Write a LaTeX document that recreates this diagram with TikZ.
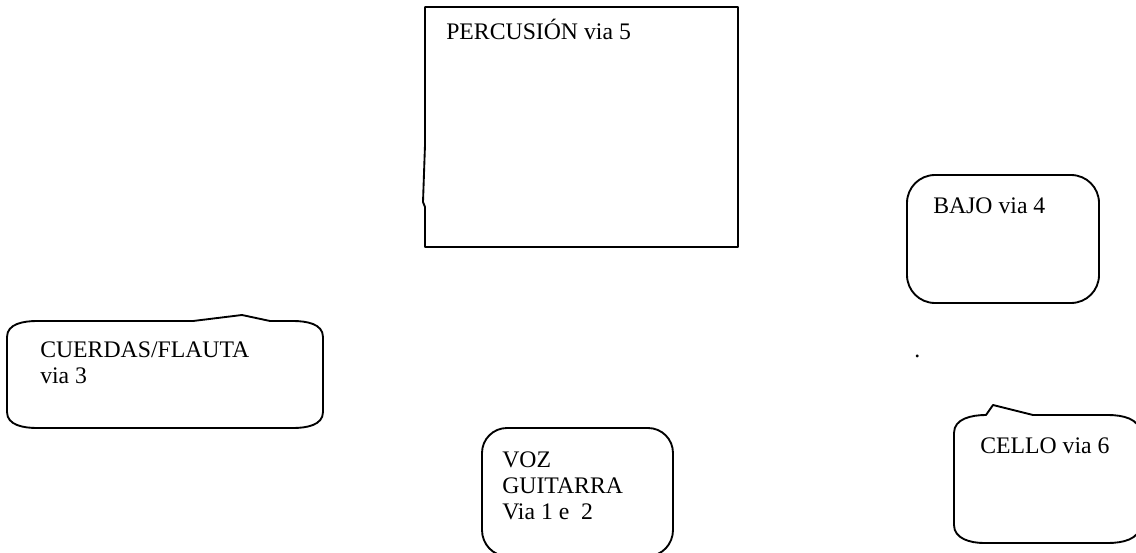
\documentclass[tikz,border=0pt]{standalone}
\usepackage{fontspec}
\setmainfont{Liberation Serif}
\begin{document}
\begin{tikzpicture}[x=0.75pt,y=-0.75pt,
  shapeline/.style={draw=black,line width=1.4pt,line join=round},
  lbl/.style={inner sep=0pt,anchor=base west,align=left,font=\fontsize{17.8pt}{19.5pt}\selectfont}]
\useasboundingbox (0,0) rectangle (1136,553);
% PERCUSION box
\draw[shapeline] (425,7) -- (738,7) -- (738,247) -- (425,247) -- (425,207) -- (423,202) -- (425,145) -- cycle;
\node[lbl] (perc) at (446,40) {PERCUSIÓN via 5};
% CUERDAS/FLAUTA callout
\draw[shapeline] (37,321) -- (193,321) -- (242,315) -- (270,321) -- (293,321)
  to[out=0,in=90] (323,337) -- (323,412) to[out=-90,in=0] (293,428) -- (37,428)
  to[out=180,in=-90] (7,412) -- (7,337) to[out=90,in=180] cycle;
\node[lbl] (cuer) at (40,383) {CUERDAS/FLAUTA\\via 3};
% VOZ GUITARRA
\draw[shapeline] (482,453) to[out=90,in=180] (507,428) -- (648,428) to[out=0,in=90] (673,453)
  -- (673,530) to[out=-90,in=0] (648,556) -- (507,556) to[out=180,in=-90] (482,530) -- cycle;
\node[lbl] (voz) at (502,519) {VOZ\\GUITARRA\\Via 1 e\ \ 2};
% BAJO
\draw[shapeline] (907,203) to[out=90,in=180] (935,175) -- (1071,175) to[out=0,in=90] (1099,203)
  -- (1099,275) to[out=-90,in=0] (1071,303) -- (935,303) to[out=180,in=-90] (907,275) -- cycle;
\node[lbl] (bajo) at (933,213) {BAJO via 4};
% dot
\node[lbl] (dot) at (914,357) {.};
% CELLO callout
\draw[shapeline] (986,415) -- (993,405) -- (1033,415) -- (1108,415) to[out=0,in=90] (1140,433)
  -- (1140,525) to[out=-90,in=0] (1108,543) -- (984,543) to[out=180,in=-90] (954,525)
  -- (954,433) to[out=90,in=180] cycle;
\node[lbl] (cello) at (980,453) {CELLO via 6};
\end{tikzpicture}
\end{document}
